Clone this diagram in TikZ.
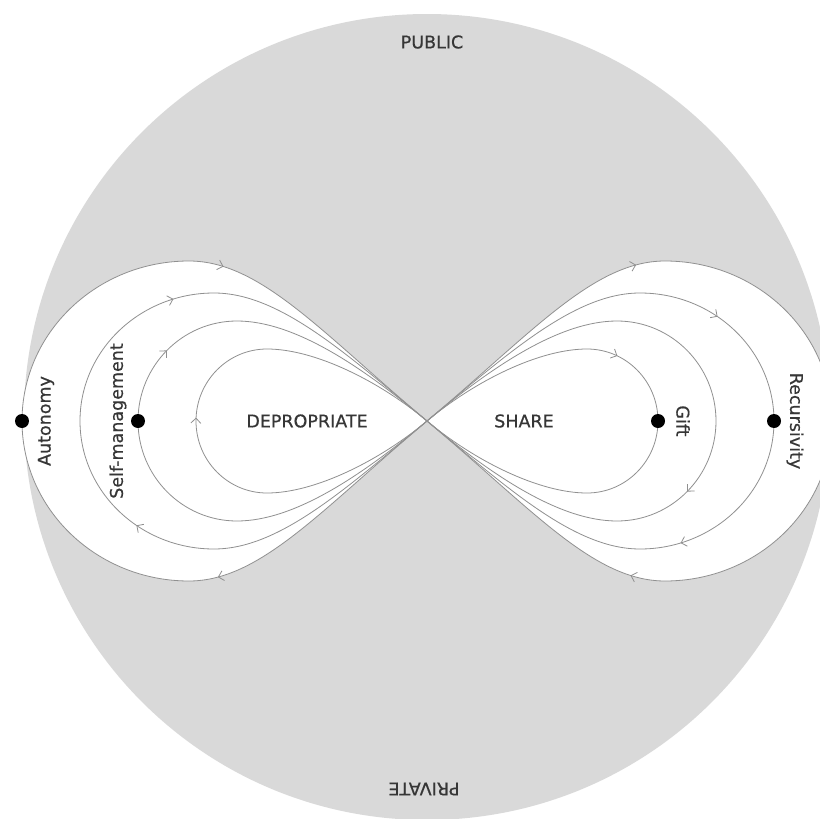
\documentclass[tikz,border=0pt]{standalone}
\usepackage{fontspec}
\setmainfont{DejaVu Sans}[FakeBold=0.6]
\usetikzlibrary{arrows.meta,decorations.markings}
\definecolor{discgray}{HTML}{D9D9D9}
\definecolor{loopgray}{HTML}{909090}
\definecolor{txtgray}{HTML}{363636}
% lobe pieces: #1 = reach r, #2 = half height h, #3 = offset s of top/bottom point
\newcommand\lobeAll[3]{(0,0) .. controls ({-0.656*#2},{0.55*#2}) and ({-0.7*#3},{#2}) .. ({-#3},{#2})
 .. controls ({-#3-0.552*(#1-#3)},{#2}) and ({-#1},{0.552*#2}) .. ({-#1},0)
 .. controls ({-#1},{-0.552*#2}) and ({-#3-0.552*(#1-#3)},{-#2}) .. ({-#3},{-#2})
 .. controls ({-0.7*#3},{-#2}) and ({-0.656*#2},{-0.55*#2}) .. (0,0)}
\newcommand\lobeOB[3]{(0,0) .. controls ({-0.656*#2},{0.55*#2}) and ({-0.7*#3},{#2}) .. ({-#3},{#2})}
\newcommand\lobeBL[3]{({-#3},{#2}) .. controls ({-#3-0.552*(#1-#3)},{#2}) and ({-#1},{0.552*#2}) .. ({-#1},0)}
\newcommand\lobeLT[3]{({-#1},0) .. controls ({-#1},{-0.552*#2}) and ({-#3-0.552*(#1-#3)},{-#2}) .. ({-#3},{-#2})}
\newcommand\lobeTO[3]{({-#3},{-#2}) .. controls ({-0.7*#3},{-#2}) and ({-0.656*#2},{-0.55*#2}) .. (0,0)}
\tikzset{
  loopline/.style={draw=loopgray, line width=0.8pt},
  barbat/.style={loopgray, line width=0.8pt, postaction={decorate},
    decoration={markings, mark=at position #1 with {\arrow{Straight Barb[length=5pt,width=10pt]}}}},
  blackdot/.style={circle, fill=black, minimum size=14pt, inner sep=0pt},
  lbl/.style={text=txtgray, inner sep=0pt, font=\fontsize{17.5}{20}\selectfont},
}
\begin{document}
\begin{tikzpicture}[x=1pt, y=-1pt]
\useasboundingbox (0,0) rectangle (820,819);
% disc
\fill[discgray] (427,417) circle (403);
% white interior of the outer loops
\begin{scope}[shift={(427,421)}]
  \fill[white] \lobeAll{405}{160}{238};
\end{scope}
\begin{scope}[shift={(427,421)}, rotate=180]
  \fill[white] \lobeAll{405}{160}{238};
\end{scope}
% left lobe
\begin{scope}[shift={(427,421)}]
  \draw[loopline] \lobeAll{405}{160}{238};
  \draw[loopline] \lobeAll{347}{128}{213};
  \draw[loopline] \lobeAll{289}{100}{190};
  \draw[loopline] \lobeAll{231}{72}{160};
  \path[barbat=0.9] \lobeOB{405}{160}{238};
  \path[barbat=0.12] \lobeTO{405}{160}{238};
  \path[barbat=0.4] \lobeBL{347}{128}{213};
  \path[barbat=0.8] \lobeLT{347}{128}{213};
  \path[barbat=0.5] \lobeLT{289}{100}{190};
  \path[barbat=0.03] \lobeLT{231}{72}{160};
\end{scope}
% right lobe (point symmetric)
\begin{scope}[shift={(427,421)}, rotate=180]
  \draw[loopline] \lobeAll{405}{160}{238};
  \draw[loopline] \lobeAll{347}{128}{213};
  \draw[loopline] \lobeAll{289}{100}{190};
  \draw[loopline] \lobeAll{231}{72}{160};
  \path[barbat=0.9] \lobeOB{405}{160}{238};
  \path[barbat=0.12] \lobeTO{405}{160}{238};
  \path[barbat=0.4] \lobeBL{347}{128}{213};
  \path[barbat=0.8] \lobeLT{347}{128}{213};
  \path[barbat=0.5] \lobeLT{289}{100}{190};
  \path[barbat=0.28] \lobeBL{231}{72}{160};
\end{scope}
% dots
\node[blackdot] (autdot) at (22,421) {};
\node[blackdot] (selfdot) at (138,421) {};
\node[blackdot] (giftdot) at (658,421) {};
\node[blackdot] (recdot) at (774,421) {};
% labels
\node[lbl] (public) at (432,42) {PUBLIC};
\node[lbl, rotate=180] (private) at (424,789) {PRIVATE};
\node[lbl, rotate=90] (autonomy) at (46,421) {Autonomy};
\node[lbl, rotate=90] (selfman) at (118,421) {Self-management};
\node[lbl, rotate=-90] (gift) at (683,421) {Gift};
\node[lbl, rotate=-90] (recurs) at (795,421) {Recursivity};
\node[lbl] (depro) at (307,421) {DEPROPRIATE};
\node[lbl] (share) at (524,421) {SHARE};
\end{tikzpicture}
\end{document}
